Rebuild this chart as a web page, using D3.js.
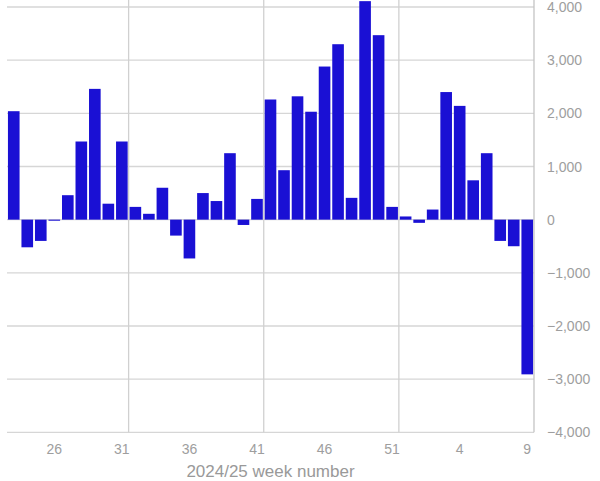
<!DOCTYPE html>
<html><head><meta charset="utf-8">
<script src="https://cdn.jsdelivr.net/npm/d3@7"></script>
<style>body{margin:0;background:#fff;}svg{display:block;}</style>
</head><body>
<svg id="c" width="600" height="481"></svg>
<script>
const weeks = [23,24,25,26,27,28,29,30,31,32,33,34,35,36,37,38,39,40,41,42,43,44,45,46,47,48,49,50,51,52,1,2,3,4,5,6,7,8,9];
const values = [2040,-520,-400,-20,460,1470,2460,300,1470,240,110,600,-300,-730,500,350,1250,-100,390,2260,930,2320,2030,2880,3300,410,4110,3470,240,60,-60,190,2400,2140,740,1250,-400,-500,-2910];
const yTicks = [-4000,-3000,-2000,-1000,0,1000,2000,3000,4000];
const xLabelWeeks = [26,31,36,41,46,51,4,9];
const xTitle = "2024/25 week number";

const svg = d3.select("#c");
const L = 7, R = 534, T = 7, B = 432.3;
const x = d3.scaleBand().domain(weeks.map((w,i)=>i)).range([L,R]).paddingInner(0.14).paddingOuter(0.07);
const y = d3.scaleLinear().domain([-4000,4000]).range([B,T]);
const fmt = d3.format(",");

// horizontal gridlines
svg.append("g").selectAll("line").data(yTicks).join("line")
  .attr("x1",L).attr("x2",R).attr("y1",d=>y(d)).attr("y2",d=>y(d))
  .attr("stroke","#d6d6d6").attr("stroke-width",1.3);
// vertical gridlines at band boundaries
const step = x.step();
const vIdx = [9,19,29,39];
svg.append("g").selectAll("line").data(vIdx).join("line")
  .attr("x1",d=>L+d*(R-L)/weeks.length).attr("x2",d=>L+d*(R-L)/weeks.length)
  .attr("y1",0).attr("y2",B)
  .attr("stroke",d=>d===39?"#c4c4c4":"#d0d0d0").attr("stroke-width",1.3);

// bars
svg.append("g").selectAll("rect").data(values).join("rect")
  .attr("x",(d,i)=>x(i)).attr("width",x.bandwidth())
  .attr("y",d=>Math.max(0,y(Math.max(0,d))))
  .attr("height",d=>Math.max(1,Math.abs(y(d)-y(0))))
  .attr("fill","#1a10d4");

// y tick labels (right)
svg.append("g").selectAll("text").data(yTicks).join("text")
  .attr("x",547).attr("y",d=>y(d)).attr("dy","0.36em")
  .attr("font-family","Liberation Sans, Arial, sans-serif").attr("font-size",14)
  .attr("fill","#9e9e9e").text(d=>fmt(d));

// x labels
svg.append("g").selectAll("text").data(xLabelWeeks).join("text")
  .attr("x",d=>x(weeks.indexOf(d))+x.bandwidth()/2).attr("y",449).attr("dy","0.36em")
  .attr("text-anchor","middle")
  .attr("font-family","Liberation Sans, Arial, sans-serif").attr("font-size",14)
  .attr("fill","#9e9e9e").text(d=>d);

svg.append("text").attr("x",(L+R)/2).attr("y",471).attr("dy","0.36em")
  .attr("text-anchor","middle")
  .attr("font-family","Liberation Sans, Arial, sans-serif").attr("font-size",17)
  .attr("fill","#999").text(xTitle);
</script>
</body></html>
